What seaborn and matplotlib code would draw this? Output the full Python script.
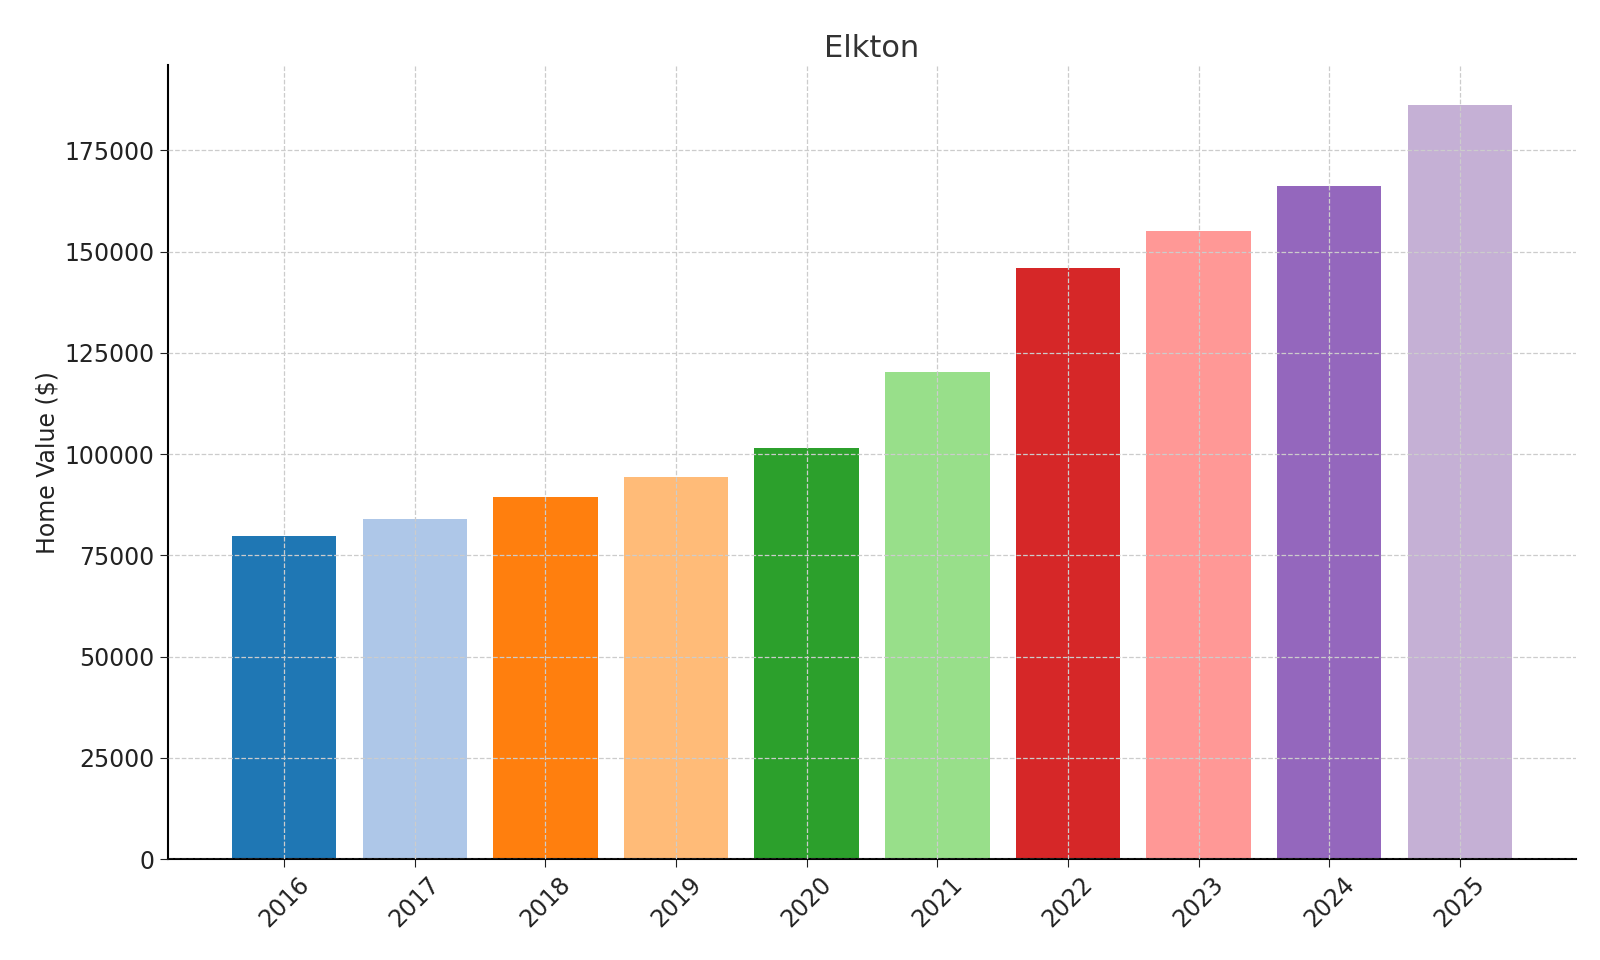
import matplotlib
matplotlib.use("Agg")
import matplotlib.pyplot as plt
import seaborn as sns
import pandas as pd

years = ["2016", "2017", "2018", "2019", "2020", "2021", "2022", "2023", "2024", "2025"]
values = [79900, 83900, 89400, 94400, 101400, 120400, 146000, 155000, 166300, 186300]

df = pd.DataFrame({"year": years, "value": values})
colors = plt.get_cmap("tab20").colors[:len(years)]

fig, ax = plt.subplots(figsize=(16, 9.6), dpi=100)
sns.barplot(data=df, x="year", y="value", hue="year", palette=list(colors),
            legend=False, width=0.8, saturation=1, ax=ax)

ax.set_title("Elkton", fontsize=22, color="#333333")
ax.set_xlabel("")
ax.set_ylabel("Home Value ($)", fontsize=17, color="#222222")
ax.tick_params(axis="both", labelsize=17, length=6, colors="#222222")
ax.tick_params(axis="x", rotation=45)
ax.set_yticks(range(0, 175001, 25000))
ax.set_ylim(0, 196000)
ax.set_xlim(-0.89, len(years) - 1 + 0.89)
ax.grid(True, linestyle="--", color="#cccccc", linewidth=0.9)
ax.set_axisbelow(False)
for p in ax.patches:
    p.set_zorder(1)
ax.spines["top"].set_visible(False)
ax.spines["right"].set_visible(False)
ax.spines["left"].set_linewidth(1.5)
ax.spines["bottom"].set_linewidth(1.5)

plt.subplots_adjust(left=0.105, right=0.985, top=0.932, bottom=0.105)
fig.savefig("out.png", dpi=100)
